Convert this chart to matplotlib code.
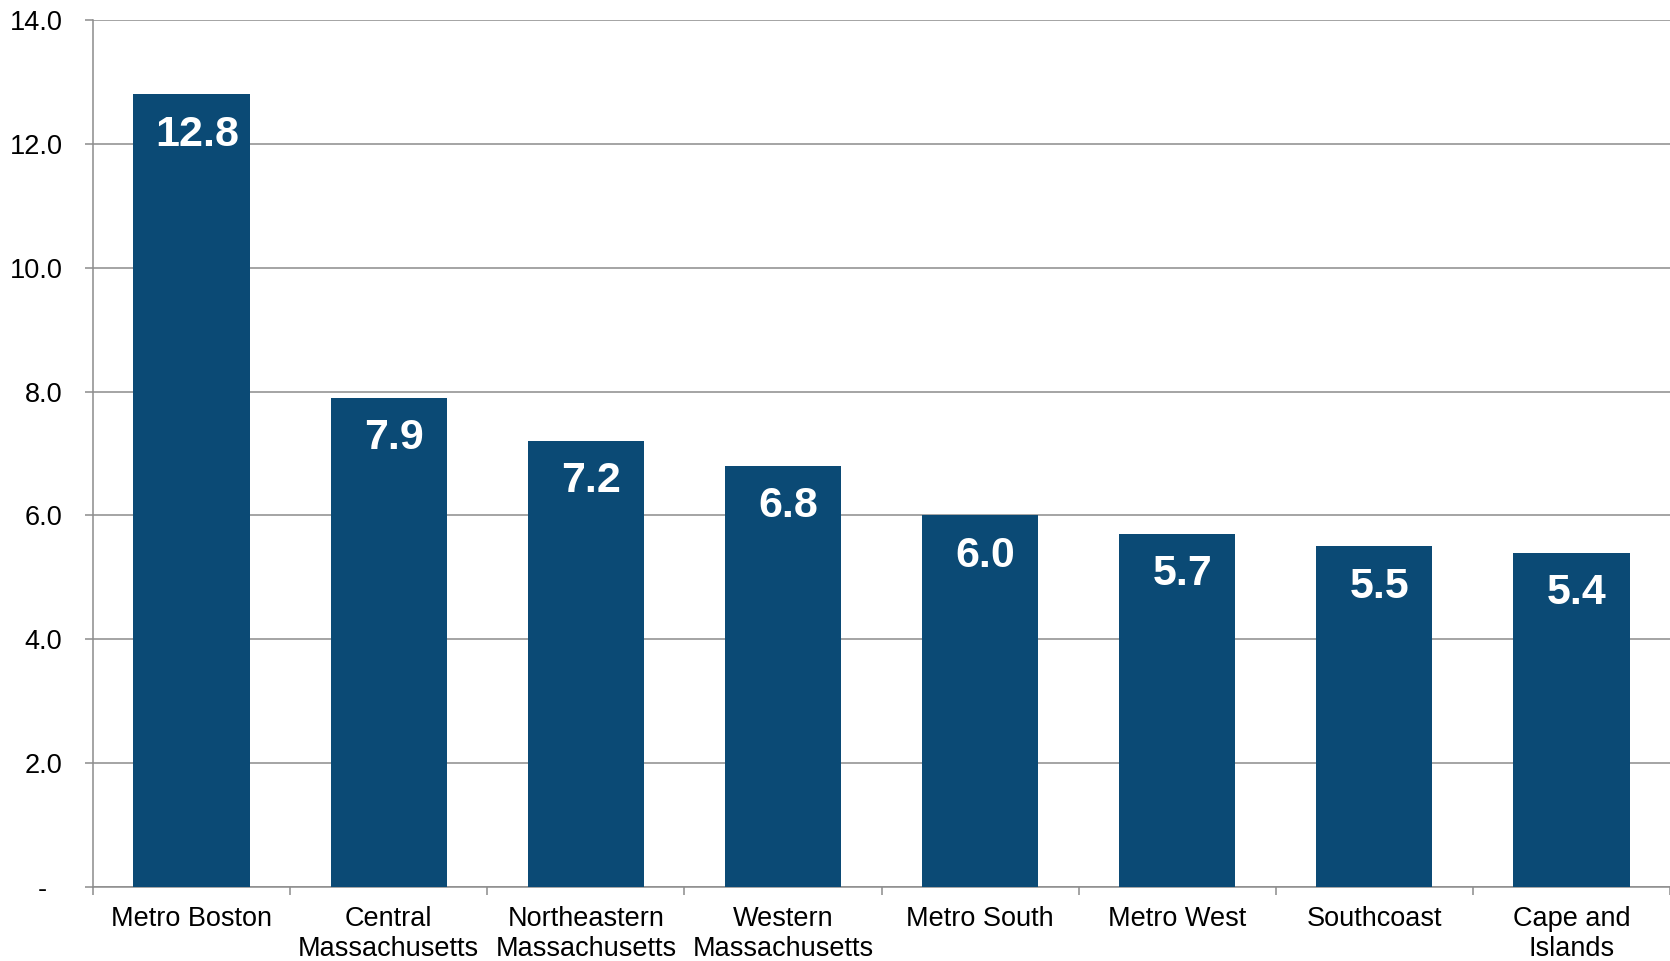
import numpy as np
import matplotlib.pyplot as plt

plt.rcParams['font.family'] = ['Liberation Sans', 'DejaVu Sans']

# Regions and their values
regions = ['Metro Boston', 'Central\nMassachusetts', 'Northeastern\nMassachusetts',
           'Western\nMassachusetts', 'Metro South', 'Metro West', 'Southcoast',
           'Cape and\nIslands']
values = [12.8, 7.9, 7.2, 6.8, 6.0, 5.7, 5.5, 5.4]
yticks = [0, 2, 4, 6, 8, 10, 12, 14]
ytick_labels = ['-  ', '2.0', '4.0', '6.0', '8.0', '10.0', '12.0', '14.0']

bar_color = '#0B4A75'
grid_color = '#8C8C8C'

fig = plt.figure(figsize=(16.7, 9.61), dpi=100)
ax = fig.add_axes([93 / 1670, 74 / 961, 1577 / 1670, 867 / 961])

x = np.arange(len(regions))
bars = ax.bar(x, values, width=0.59, color=bar_color, zorder=3)

for xi, v in zip(x, values):
    ax.annotate(f'{v:.1f}', (xi, v), xytext=(4, -29), textcoords='offset points',
                ha='center', va='center', color='white', fontsize=31,
                fontweight='bold', zorder=4)

ax.set_xlim(-0.5, len(regions) - 0.5)
ax.set_ylim(0, 14)

ax.set_yticks(yticks)
ax.set_yticklabels(ytick_labels)
ax.yaxis.grid(True, color=grid_color, linewidth=1.1, zorder=0)
ax.tick_params(axis='y', length=6, width=1.1, color=grid_color, pad=16, labelsize=19.5)

ax.set_xticks(x)
ax.set_xticklabels(regions, linespacing=1.2)
ax.set_xticks(np.arange(len(regions) + 1) - 0.5, minor=True)
ax.tick_params(axis='x', which='major', length=0, pad=14, labelsize=19.5)
ax.tick_params(axis='x', which='minor', length=6, width=1.1, color=grid_color)

for side in ['top', 'right']:
    ax.spines[side].set_visible(False)
for side in ['left', 'bottom']:
    ax.spines[side].set_color(grid_color)
    ax.spines[side].set_linewidth(1.1)

fig.savefig('out.png', dpi=100)
